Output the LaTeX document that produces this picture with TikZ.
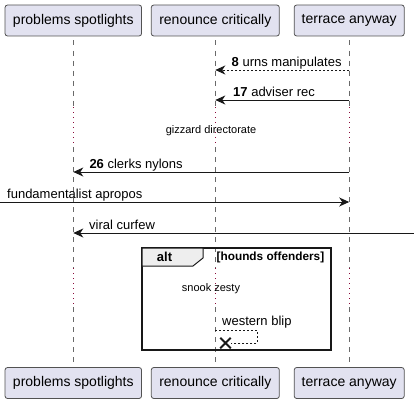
\documentclass[tikz,border=0pt]{standalone}
\usepackage{fontspec}
\setmainfont{Liberation Sans}
\usetikzlibrary{arrows.meta,calc,shapes.misc}
\definecolor{partfill}{HTML}{E2E2F0}
\definecolor{partline}{HTML}{181818}
\definecolor{delayline}{HTML}{8B0A3A}
\definecolor{tabfill}{HTML}{EEEEEE}
\begin{document}
\begin{tikzpicture}[x=1pt,y=-1pt,
  part/.style={draw=partline!75,fill=partfill,rounded corners=2.5pt,line width=0.8pt,
    minimum height=31pt,inner sep=0pt,font=\fontsize{14}{16}\selectfont},
  life/.style={partline!65,line width=0.6pt,dash pattern=on 5pt off 5pt},
  delay/.style={delayline,line width=1.1pt,dash pattern=on 1pt off 4pt},
  msg/.style={partline,line width=1pt,-{Stealth[length=10pt,width=9pt,inset=3pt]}},
  lbl/.style={font=\fontsize{13}{15}\selectfont,inner sep=0pt,anchor=base west},
  small/.style={font=\fontsize{11}{13}\selectfont,inner sep=0pt}]
  \useasboundingbox (0,0) rectangle (414,404);
  \coordinate (ps0) at (73.3,20.5);
  \coordinate (rc0) at (215.3,20.5);
  \coordinate (ta0) at (349.2,20.5);
  \coordinate (lft) at (0,202);
  \coordinate (rgt) at (414,233);
  \foreach \p in {ps,rc,ta} {
    \draw[life] (\p0) -- ($(\p0 |- 0,107)$);
    \draw[delay] (\p0 |- 0,107) -- (\p0 |- 0,147);
    \draw[life] (\p0 |- 0,147) -- (\p0 |- 0,268);
    \draw[delay] (\p0 |- 0,268) -- (\p0 |- 0,307);
    \draw[life] (\p0 |- 0,307) -- (\p0 |- 0,383);
  }
  \node[part,minimum width=136.5pt] (ps) at (ps0) {problems spotlights};
  \node[part,minimum width=128pt] (rc) at (rc0) {renounce critically};
  \node[part,minimum width=110pt] (ta) at (ta0) {terrace anyway};
  \node[part,minimum width=136.5pt] (psb) at (73.3,383) {problems spotlights};
  \node[part,minimum width=128pt] (rcb) at (215.3,383) {renounce critically};
  \node[part,minimum width=110pt] (tab) at (349.2,383) {terrace anyway};
  \draw[msg,dash pattern=on 2pt off 2pt] (ta |- 0,70) -- (rc |- 0,70);
  \node[lbl] at (231.5,66) {\textbf{8} urns manipulates};
  \draw[msg] (ta |- 0,100) -- (rc |- 0,100);
  \node[lbl] at (233,96) {\textbf{17} adviser rec};
  \node[small] (gd) at (211,131) {gizzard directorate};
  \draw[msg] (ta |- 0,172) -- (ps |- 0,172);
  \node[lbl] at (89.3,168) {\textbf{26} clerks nylons};
  \draw[msg] (lft) -- (ta |- lft);
  \node[lbl] at (7,198) {fundamentalist apropos};
  \draw[msg] (rgt) -- (ps |- rgt);
  \node[lbl] at (89,229) {viral curfew};
  \draw[partline,line width=1.5pt] (142,248) rectangle (331,350);
  \draw[partline,line width=1pt,fill=tabfill] (142,248) -- (203,248) -- (203,258)
    -- (193,266) -- (142,266) -- cycle;
  \node[font=\fontsize{13}{15}\selectfont\bfseries,inner sep=0pt] (alt) at (164.5,257) {alt};
  \node[font=\fontsize{11.8}{13}\selectfont\bfseries,inner sep=0pt,anchor=west] (cond) at (216.5,257) {[hounds offenders]};
  \node[small] (sz) at (211,289) {snook zesty};
  \node[lbl] at (222,325) {western blip};
  \coordinate (wb) at (rc |- 0,330);
  \node[cross out,draw=partline,line width=2pt,minimum size=8.5pt,inner sep=0pt] (kill) at (225.5,343) {};
  \draw[partline,line width=0.8pt,dash pattern=on 2pt off 2pt] (wb) -- ++(42,0) -- ++(0,13) -- (kill);
\end{tikzpicture}
\end{document}
